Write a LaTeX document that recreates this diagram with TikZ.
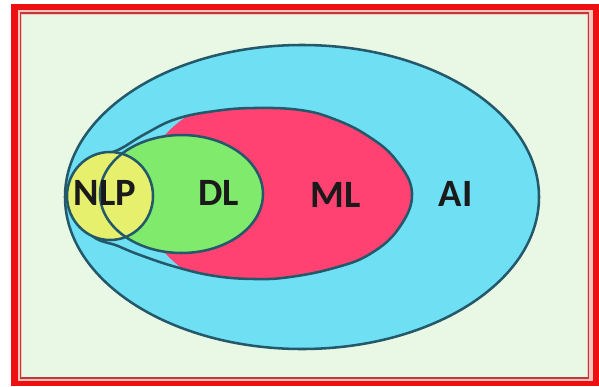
\documentclass[tikz,border=0pt]{standalone}
\usepackage{fontspec}
\setmainfont{Carlito}
\definecolor{bgpale}{HTML}{E8F8E4}
\definecolor{framered}{HTML}{EE1010}
\definecolor{framegap}{HTML}{F6C4BC}
\definecolor{frameline}{HTML}{C03838}
\definecolor{aicyan}{HTML}{6FE0F4}
\definecolor{mlpink}{HTML}{FF4272}
\definecolor{dlgreen}{HTML}{80EA6C}
\definecolor{nlpyellow}{HTML}{E6F06C}
\definecolor{outline}{HTML}{23596B}
\definecolor{txt}{HTML}{1A1A1A}
\tikzset{
  setedge/.style={draw=outline, line width=1.9pt},
  setlabel/.style={font=\fontsize{29}{29}\selectfont\bfseries, text=txt, inner sep=0pt}
}
\def\mlpath{plot[smooth cycle, tension=0.7] coordinates{(70,200) (82,172) (100,157) (120,149) (145,134) (176,119) (215,111) (255,108) (300,110) (334,119) (368,136) (396,160) (412,193) (399,228) (370,254) (334,268) (290,277) (255,279) (215,276) (176,267) (140,255) (118,246) (90,234)}}
\begin{document}
\begin{tikzpicture}[x=0.75pt, y=-0.75pt]
\useasboundingbox (0,0) rectangle (599,386);
\fill[white] (0,0) rectangle (599,386);
% frame
\fill[framered] (11,4) rectangle (599,386);
\fill[framegap] (17.5,10) rectangle (592.5,381);
\draw[frameline, line width=1.1pt] (20.5,13) rectangle (588.5,378);
\fill[bgpale] (22,14.5) rectangle (587,376.5);
% AI
\filldraw[fill=aicyan, setedge] (302,197) ellipse [x radius=237, y radius=152];
% ML
\begin{scope}
  \clip (300,194) ellipse [x radius=160, y radius=110];
  \fill[mlpink] \mlpath;
\end{scope}
\draw[setedge] \mlpath;
% DL and NLP fills
\fill[dlgreen] (181.5,194) ellipse [x radius=81.5, y radius=59];
\fill[nlpyellow] (110,196) ellipse [x radius=43, y radius=44];
% outlines
\draw[setedge] (181.5,194) ellipse [x radius=81.5, y radius=59];
\draw[setedge] (110,196) ellipse [x radius=43, y radius=44];
% labels
\node[setlabel] (nlp) at (105,193) {NLP};
\node[setlabel] (dl) at (218.5,193) {DL};
\node[setlabel] (ml) at (336,194.5) {ML};
\node[setlabel] (ai) at (455.5,194) {AI};
\end{tikzpicture}
\end{document}
